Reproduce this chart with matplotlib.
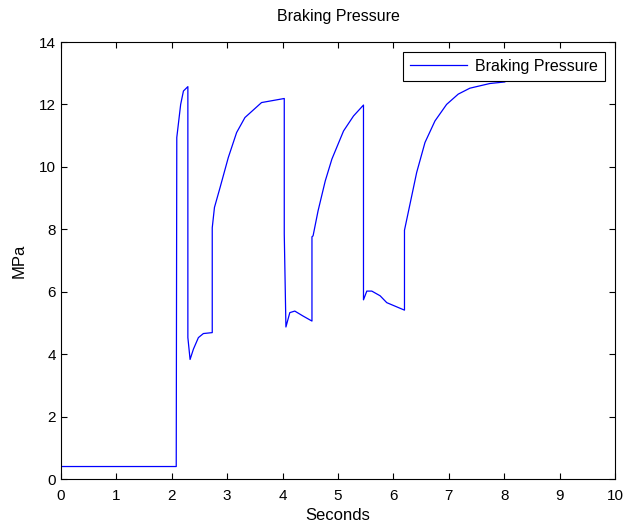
import matplotlib
matplotlib.use("Agg")
import matplotlib.pyplot as plt

plt.rcParams['font.family'] = ['Liberation Sans', 'DejaVu Sans']

# braking pressure trace (seconds, MPa)
t = [0.0, 2.08, 2.09, 2.16, 2.21, 2.29, 2.29, 2.33, 2.39, 2.48, 2.57, 2.73,
     2.73, 2.77, 2.87, 3.02, 3.17, 3.32, 3.62, 4.03, 4.03, 4.06, 4.13, 4.22,
     4.37, 4.53, 4.53, 4.55, 4.64, 4.77, 4.89, 5.10, 5.28, 5.46, 5.46, 5.52,
     5.61, 5.76, 5.88, 6.20, 6.20, 6.42, 6.57, 6.75, 6.96, 7.17, 7.38, 7.74,
     8.01]
pressure = [0.4, 0.4, 10.94, 12.0, 12.43, 12.57, 4.53, 3.83, 4.16, 4.53, 4.66,
            4.69, 8.05, 8.70, 9.33, 10.30, 11.10, 11.58, 12.06, 12.19, 7.85,
            4.87, 5.33, 5.38, 5.22, 5.06, 7.76, 7.79, 8.59, 9.55, 10.25, 11.15,
            11.63, 11.98, 5.74, 6.02, 6.02, 5.87, 5.65, 5.41, 7.97, 9.82,
            10.78, 11.47, 12.0, 12.33, 12.52, 12.67, 12.72]

x_ticks = list(range(0, 11))
y_ticks = list(range(0, 15, 2))

fig = plt.figure(figsize=(6.25, 5.25), dpi=100)
ax = fig.add_axes([0.0976, 0.0876, 0.8864, 0.8324])

ax.plot(t, pressure, color='#0000ff', linewidth=0.9, label='Braking Pressure')

ax.set_xlim(0, 10)
ax.set_ylim(0, 14)
ax.set_xticks(x_ticks)
ax.set_yticks(y_ticks)
ax.tick_params(direction='in', top=True, right=True, length=4,
               labelsize=11, width=0.8)
ax.tick_params(axis='x', pad=7)
for s in ax.spines.values():
    s.set_linewidth(0.8)

ax.set_title('Braking Pressure', fontsize=11.5, pad=15)
ax.set_xlabel('Seconds', fontsize=12, labelpad=4)
ax.set_ylabel('MPa', fontsize=12, labelpad=9)

leg = ax.legend(loc='upper right', fontsize=11.5, fancybox=False,
                framealpha=1, edgecolor='black', handlelength=3.6,
                handletextpad=0.5, borderpad=0.45, borderaxespad=0.6)
leg.get_frame().set_linewidth(0.8)

fig.savefig('out.png', dpi=100)
